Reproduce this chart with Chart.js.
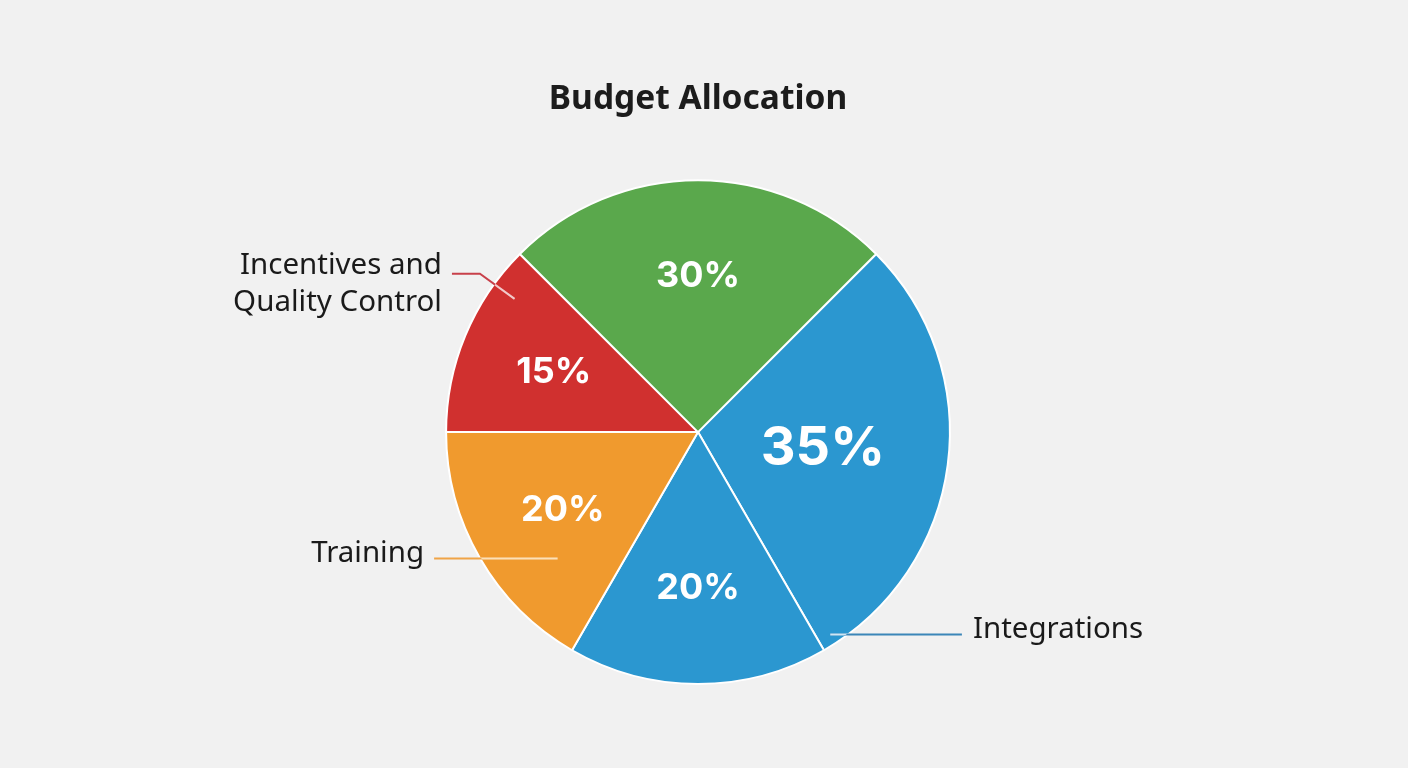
<!DOCTYPE html>
<html>
<head>
<meta charset="utf-8">
<script src="https://cdn.jsdelivr.net/npm/chart.js@4.4.1/dist/chart.umd.min.js"></script>
<style>
  html, body { margin: 0; padding: 0; background: #f1f1f1; }
  #wrap { width: 1408px; height: 768px; }
</style>
</head>
<body>
<div id="wrap"><canvas id="budget-Chart"></canvas></div>
<script>
// data
const categories = ['Integrations', '', 'Training', 'Incentives and Quality Control', ''];
const shares = [35, 20, 20, 15, 30];
const sliceColors = ['#2b97d0', '#2b97d0', '#f09a2e', '#d0302f', '#5aa84c'];
const lineColors = ['#3b86b8', null, '#f0a447', '#c8404a', null];
const lineTints = ['#cfe6f4', null, '#fbe0b8', '#f3c9c9', null];

// where the leader lines start inside each named slice (fraction of angle, fraction of radius)
const leaderSpots = [
    { frac: 0.97, rf: 0.96, side: 'right' },
    null,
    { frac: 0.3, rf: 0.75, side: 'left' },
    { frac: 0.8, rf: 0.9, side: 'left', elbow: 1.07 },
    null
];

const sliceLabels = {
    id: 'sliceLabels',
    afterDatasetsDraw(chart) {
        const ctx = chart.ctx;
        const meta = chart.getDatasetMeta(0);
        ctx.save();
        meta.data.forEach((arc, i) => {
            const p = arc.getProps(['x', 'y', 'startAngle', 'endAngle', 'outerRadius'], true);
            const R = p.outerRadius;
            // value text inside the slice
            const mid = (p.startAngle + p.endAngle) / 2;
            const rr = i === 0 ? 0.5 : 0.62;
            ctx.fillStyle = '#ffffff';
            ctx.font = (i === 0 ? '700 54px' : '700 36px') + ' Inter, "Noto Sans", sans-serif';
            ctx.textAlign = 'center';
            ctx.textBaseline = 'middle';
            ctx.fillText(shares[i] + '%', p.x + Math.cos(mid) * R * rr, p.y + Math.sin(mid) * R * rr);

            // outside names with leader lines
            const spot = leaderSpots[i];
            if (!spot) return;
            const a = p.startAngle + spot.frac * (p.endAngle - p.startAngle);
            const ax = p.x + Math.cos(a) * R * spot.rf;
            const ay = p.y + Math.sin(a) * R * spot.rf;
            let ex = ax, ey = ay, endX;
            if (spot.elbow) {
                ex = p.x + Math.cos(a) * R * spot.elbow;
                ey = p.y + Math.sin(a) * R * spot.elbow;
                endX = ex - 28;
            } else {
                endX = spot.side === 'left' ? p.x - R - 12 : p.x + R + 12;
            }
            ctx.lineWidth = 2;
            ctx.strokeStyle = lineColors[i];
            ctx.beginPath();
            ctx.moveTo(ax, ay);
            ctx.lineTo(ex, ey);
            ctx.lineTo(endX, ey);
            ctx.stroke();
            // lighter part where the line runs over the slice
            ctx.save();
            ctx.beginPath();
            ctx.arc(p.x, p.y, R - 1, 0, Math.PI * 2);
            ctx.clip();
            ctx.strokeStyle = lineTints[i];
            ctx.beginPath();
            ctx.moveTo(ax, ay);
            ctx.lineTo(ex, ey);
            ctx.lineTo(endX, ey);
            ctx.stroke();
            ctx.restore();

            ctx.fillStyle = '#1a1a1a';
            ctx.font = '29.5px "Noto Sans", "Open Sans", sans-serif';
            ctx.textAlign = spot.side === 'left' ? 'right' : 'left';
            const tx = spot.side === 'left' ? endX - 10 : endX + 11;
            if (i === 3) {
                ctx.fillText('Incentives and', tx, ey - 8);
                ctx.fillText('Quality Control', tx, ey + 29);
            } else {
                ctx.fillText(categories[i], tx, ey - 5);
            }
        });
        ctx.restore();
    }
};

const ctx = document.getElementById('budget-Chart').getContext('2d');
new Chart(ctx, {
    type: 'pie',
    data: {
        labels: categories,
        datasets: [{
            data: shares,
            backgroundColor: sliceColors,
            borderColor: '#ffffff',
            borderWidth: 2
        }]
    },
    options: {
        responsive: true,
        maintainAspectRatio: false,
        animation: false,
        rotation: 45,
        layout: {
            padding: { top: 0, bottom: 83, left: 0, right: 12 }
        },
        plugins: {
            legend: { display: false },
            tooltip: { enabled: false },
            title: {
                display: true,
                text: 'Budget Allocation',
                color: '#1c1c1c',
                font: { family: '"Noto Sans", sans-serif', size: 33.5, weight: 'bold' },
                padding: { top: 79, bottom: 60 }
            }
        }
    },
    plugins: [sliceLabels]
});
</script>
</body>
</html>
